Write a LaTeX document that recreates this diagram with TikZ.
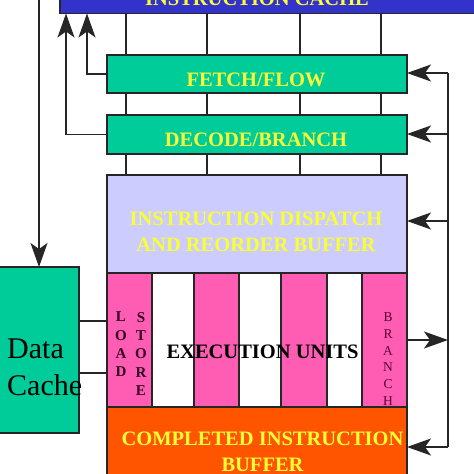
\documentclass[tikz,border=0pt]{standalone}
\usepackage{fontspec}
\setmainfont{Liberation Serif}
\usetikzlibrary{arrows.meta}
\definecolor{icblue}{RGB}{51,51,204}
\definecolor{grn}{RGB}{0,204,153}
\definecolor{lav}{RGB}{204,204,255}
\definecolor{pnk}{RGB}{255,92,180}
\definecolor{orng}{RGB}{255,85,0}
\definecolor{ylw}{RGB}{250,255,51}
\definecolor{dkp}{RGB}{50,0,35}
\definecolor{brp}{RGB}{90,0,50}
\begin{document}
\begin{tikzpicture}[x=1pt,y=-1pt,
 box/.style={draw=black!85, line width=1.4pt, inner sep=0pt, outer sep=0pt},
 ylab/.style={text=ylw, font=\fontsize{20.5}{26}\selectfont\bfseries, align=center, inner sep=0pt},
 conn/.style={line width=1.4pt, draw=black!85},
 arr/.style={conn, -{Stealth[length=24pt,width=17pt,inset=6pt]}},
 vlab/.style={text=dkp, font=\fontsize{15}{18.3}\selectfont\bfseries, align=center, inner sep=0pt},
 ]
\useasboundingbox (0,0) rectangle (474,474);
\clip (0,0) rectangle (474,474);
\fill[white] (0,0) rectangle (474,474);

% boxes
\node[box, fill=icblue, minimum width=430pt, minimum height=43.5pt] (icache) at (275,-8.25) {};
\node[ylab, anchor=base] (ictext) at (257,5) {INSTRUCTION CACHE};
\node[box, fill=grn, minimum width=300pt, minimum height=38pt] (fetch) at (257,74) {};
\node[ylab] (ftext) at (256,79.5) {FETCH/FLOW};
\node[box, fill=grn, minimum width=300pt, minimum height=39pt] (decode) at (257,134.5) {};
\node[ylab] (dtext) at (256,139.5) {DECODE/BRANCH};
\node[box, fill=lav, minimum width=300pt, minimum height=98pt] (disp) at (257,224) {};
\node[ylab] (disptext) at (256,231.5) {INSTRUCTION DISPATCH\\AND REORDER BUFFER};

% execution unit columns
\node[box, fill=pnk, minimum width=45pt, minimum height=134pt] (load) at (129.5,340) {};
\node[box, fill=white, minimum width=42pt, minimum height=134pt] (w1) at (173,340) {};
\node[box, fill=pnk, minimum width=45pt, minimum height=134pt] (p2) at (216.5,340) {};
\node[box, fill=white, minimum width=42pt, minimum height=134pt] (w2) at (260,340) {};
\node[box, fill=pnk, minimum width=46pt, minimum height=134pt] (p3) at (304,340) {};
\node[box, fill=white, minimum width=35pt, minimum height=134pt] (w3) at (344.5,340) {};
\node[box, fill=pnk, minimum width=45pt, minimum height=134pt] (branch) at (384.5,340) {};
\node[vlab] (loadt) at (121,344.5) {L\\O\\A\\D};
\node[vlab] (storet) at (141,354) {S\\T\\O\\R\\E};
\node[text=brp, font=\fontsize{13.5}{16.8}\selectfont, align=center, inner sep=0pt] (brancht) at (388,359) {B\\R\\A\\N\\C\\H};
\node[font=\fontsize{20.5}{24}\selectfont\bfseries, inner sep=0pt] (exect) at (262.5,352) {EXECUTION UNITS};

% completed instruction buffer
\node[box, fill=orng, minimum width=300pt, minimum height=93pt] (cib) at (257,453.5) {};
\node[ylab] (cibt) at (262.5,452) {COMPLETED INSTRUCTION\\BUFFER};

% data cache
\node[box, fill=grn, minimum width=84pt, minimum height=166pt] (dcache) at (37,350) {};
\node[font=\fontsize{30}{37}\selectfont, align=left, inner sep=0pt, anchor=base west] (dct) at (7,395) {Data\\Cache};

% vertical links between stages
\foreach \x in {126,207,300,381} {
  \draw[conn] (\x,0 |- icache.south) -- (\x,0 |- fetch.north);
  \draw[conn] (\x,0 |- fetch.south) -- (\x,0 |- decode.north);
  \draw[conn] (\x,0 |- decode.south) -- (\x,0 |- disp.north);
}

% left feedback arrows
\draw[arr] (fetch.west) -| (87,0 |- icache.south);
\draw[arr] (decode.west) -| (66,0 |- icache.south);
\coordinate (dtop) at (39,-5);
\draw[arr] (dtop) -- (dtop |- dcache.north);

% data cache to load/store
\draw[conn] (dcache.east |- 0,321) -- (load.west |- 0,321);
\draw[conn] (dcache.east |- 0,373) -- (load.west |- 0,373);

% right bus
\coordinate (rt) at (448,73);
\coordinate (rb) at (448,447);
\draw[conn] (rt) -- (rb);
\draw[arr] (rt) -- (fetch.east |- rt);
\draw[arr] (rt |- 0,134) -- (decode.east |- 0,134);
\draw[arr] (rt |- 0,221) -- (disp.east |- 0,221);
\draw[arr] (branch.east) -- (branch.east -| rb);
\draw[arr] (rb) -- (cib.east |- rb);
\end{tikzpicture}
\end{document}
